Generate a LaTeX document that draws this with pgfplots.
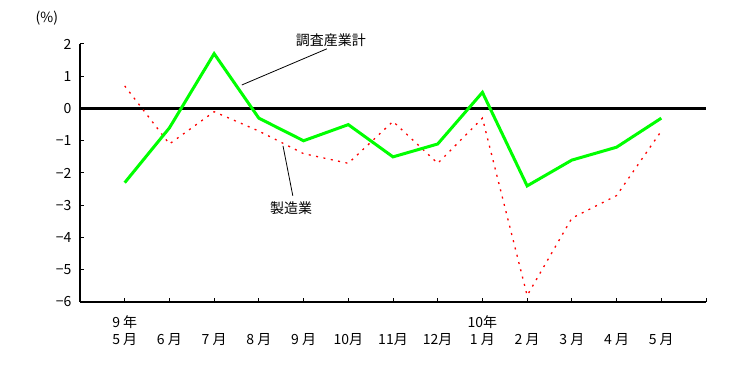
\documentclass[border=0pt]{standalone}
\usepackage{pgfplots}
\pgfplotsset{compat=1.18}
\usepackage{fontspec}
\setmainfont{Noto Sans CJK JP}
\definecolor{lgreen}{RGB}{0,255,0}
\definecolor{lred}{RGB}{255,0,0}
\begin{document}
\begin{tikzpicture}
\path[use as bounding box] (-80pt,-72pt) rectangle (662pt,302pt);
\begin{axis}[
  at={(0,0)}, anchor=south west,
  scale only axis, width=626pt, height=258pt,
  xmin=0, xmax=14, ymin=-6, ymax=2,
  axis x line*=bottom, axis y line*=left,
  axis line style={line width=1.2pt},
  xtick={1,...,14},
  xticklabels={{9 年\\5 月},{\strut\\6 月},{\strut\\7 月},{\strut\\8 月},{\strut\\9 月},{\strut\\10月},{\strut\\11月},{\strut\\12月},{10年\\1 月},{\strut\\2 月},{\strut\\3 月},{\strut\\4 月},{\strut\\5 月},{}},
  ytick={-6,...,2},
  yticklabels={−6,−5,−4,−3,−2,−1,0,1,2},
  tick align=inside, major tick length=4pt,
  tick style={line width=1pt, black},
  every tick label/.append style={font=\fontsize{14}{17}\selectfont},
  xticklabel style={align=center, anchor=north, yshift=-10pt},
  yticklabel style={anchor=east, xshift=-5pt},
  clip=false,
]
\addplot[line width=2.5pt, black, forget plot] coordinates {(0,0) (14,0)};
\addplot[line width=1.3pt, lred, dash pattern=on 2pt off 5.5pt] coordinates {
(1,0.7) (2,-1.1) (3,-0.1) (4,-0.7) (5,-1.4) (6,-1.7) (7,-0.4) (8,-1.7) (9,-0.3) (10,-5.8) (11,-3.4) (12,-2.7) (13,-0.7)};
\addplot[line width=3pt, lgreen] coordinates {
(1,-2.3) (2,-0.6) (3,1.7) (4,-0.3) (5,-1.0) (6,-0.5) (7,-1.5) (8,-1.1) (9,0.5) (10,-2.4) (11,-1.6) (12,-1.2) (13,-0.3)};
\node[font=\fontsize{14}{16}\selectfont] at (axis cs:5.61,2.13) {調査産業計};
\draw[line width=0.8pt] (axis cs:5.52,1.85) -- (axis cs:3.62,0.73);
\node[font=\fontsize{14}{16}\selectfont] at (axis cs:4.72,-3.08) {製造業};
\draw[line width=0.8pt] (axis cs:4.54,-1.16) -- (axis cs:4.76,-2.71);
\node[font=\fontsize{14}{16}\selectfont] at (axis cs:-0.74,2.79) {(\%)};
\end{axis}
\end{tikzpicture}
\end{document}
